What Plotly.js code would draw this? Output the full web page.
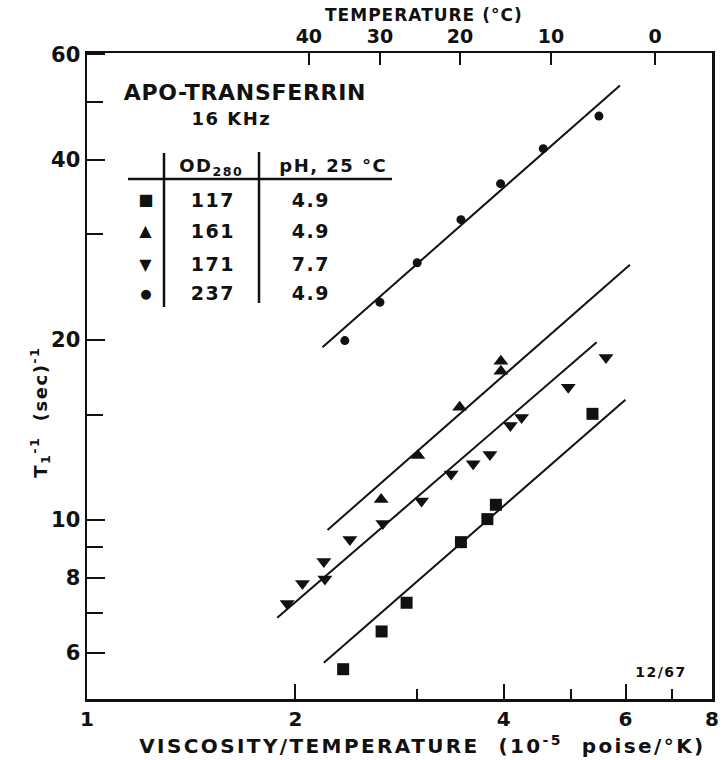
<!DOCTYPE html>
<html>
<head>
<meta charset="utf-8">
<script src="https://cdn.plot.ly/plotly-3.0.1.min.js"></script>
<style>
html,body{margin:0;padding:0;background:#fff;}
#chart{width:723px;height:760px;}
#chart .annotation-text{letter-spacing:1.5px;}
#chart g.annotation[data-index="0"] text{letter-spacing:1px;}
#chart g.annotation[data-index="1"] text{letter-spacing:2.4px;}
#chart g.annotation[data-index="3"] text{letter-spacing:0.7px;}
</style>
</head>
<body>
<div id="chart"></div>
<script>
// ---- data ----
// OD280 = 117, pH 4.9 (squares)
const sqX = [2.345, 2.665, 2.896, 3.470, 3.789, 3.898, 5.375];
const sqY = [5.63, 6.51, 7.27, 9.18, 10.03, 10.60, 15.04];
// OD280 = 161, pH 4.9 (triangles up)
const tuX = [2.661, 3.007, 3.455, 3.963, 3.963];
const tuY = [10.82, 12.81, 15.43, 17.72, 18.42];
// OD280 = 171, pH 7.7 (triangles down)
const tdX = [1.946, 2.048, 2.199, 2.207, 2.398, 2.676, 3.044, 3.359, 3.614, 3.821, 4.090, 4.246, 4.959, 5.622];
const tdY = [7.25, 7.83, 8.52, 7.97, 9.27, 9.86, 10.75, 11.93, 12.41, 12.86, 14.38, 14.83, 16.66, 18.68];
// OD280 = 237, pH 4.9 (circles)
const ciX = [2.358, 2.650, 3.000, 3.470, 3.959, 4.563, 5.492];
const ciY = [19.94, 23.11, 26.90, 31.75, 36.47, 41.73, 47.30];

// fitted straight lines (end points)
const fitSqX = [2.199, 5.998], fitSqY = [5.77, 15.88];
const fitTuX = [2.226, 6.088], fitTuY = [9.62, 26.7];
const fitTdX = [1.883, 5.450], fitTdY = [6.86, 19.81];
const fitCiX = [2.189, 5.890], fitCiY = [19.44, 53.23];

// axes ticks
const xTickVals = [1, 2, 4, 6, 8];
const xTickText = ['1', '2', '4', '6', '8'];
const xMinorVals = [3, 5, 7];
const yTickVals = [6, 8, 10, 20, 40, 60];
const yTickText = ['6', '8', '10', '20', '40', '60'];
const yMinorVals = [7, 9, 15, 30, 50];
// top temperature axis: viscosity/temperature value at each temperature
const tempLabels = ['40', '30', '20', '10', '0'];
const tempPositions = [2.092, 2.650, 3.459, 4.682, 6.618];

// legend table
const legendSymbols = ['■', '▲', '▼', '●'];
const legendOD = ['117', '161', '171', '237'];
const legendPH = ['4.9', '4.9', '7.7', '4.9'];

// ---- layout helpers (pixel -> paper) ----
const L = 87, R = 712, T = 53, B = 699;
const px = v => (v - L) / (R - L);
const py = v => (B - v) / (B - T);
const FONT = 'DejaVu Sans';
const black = '#111';

const lineStyle = {color: black, width: 2};
const traces = [
  {x: fitCiX, y: fitCiY, mode: 'lines', line: lineStyle, hoverinfo: 'skip'},
  {x: fitTuX, y: fitTuY, mode: 'lines', line: lineStyle, hoverinfo: 'skip'},
  {x: fitTdX, y: fitTdY, mode: 'lines', line: lineStyle, hoverinfo: 'skip'},
  {x: fitSqX, y: fitSqY, mode: 'lines', line: lineStyle, hoverinfo: 'skip'},
  {x: sqX, y: sqY, mode: 'markers', marker: {symbol: 'square', size: 12, color: black}},
  {x: tuX, y: tuY, mode: 'markers', marker: {symbol: 'triangle-up', size: 13, color: black}},
  {x: tdX, y: tdY, mode: 'markers', marker: {symbol: 'triangle-down', size: 13, color: black}},
  {x: ciX, y: ciY, mode: 'markers', marker: {symbol: 'circle', size: 9, color: black}},
  // invisible trace to activate the top axis
  {x: tempPositions, y: [null, null, null, null, null], xaxis: 'x2', yaxis: 'y', mode: 'markers', hoverinfo: 'skip', showlegend: false}
];

const annotations = [];
function txt(text, x, y, size, extra) {
  annotations.push(Object.assign({
    text: text, xref: 'paper', yref: 'paper', x: px(x), y: py(y),
    xanchor: 'center', yanchor: 'middle', showarrow: false,
    font: {family: FONT, size: size, color: black, weight: 'bold'}
  }, extra || {}));
}
txt('TEMPERATURE (°C)', 424, 15, 17);
txt('VISCOSITY/TEMPERATURE  (10<sup>-5</sup>  poise/°K)', 422, 745, 20);
txt('T<sub>1</sub><sup>-1</sup>  (sec)<sup>-1</sup>', 40, 412, 18, {textangle: -90});
txt('APO-TRANSFERRIN', 245, 92, 22);
txt('16 KHz', 231, 118, 18);
txt('OD<sub>280</sub>', 211, 167, 18);
txt('pH, 25 °C', 333, 165, 18);
const rowY = [200, 231, 264, 293];
const symSize = [16, 16, 16, 13];
for (let i = 0; i < 4; i++) {
  txt(legendSymbols[i], 146, rowY[i], symSize[i]);
  txt(legendOD[i], 213, rowY[i], 19);
  txt(legendPH[i], 311, rowY[i], 19);
}
txt('12/67', 661, 672, 14);

const shapes = [
  {type: 'line', xref: 'paper', yref: 'paper', x0: px(164), x1: px(164), y0: py(153), y1: py(307), line: {color: black, width: 2.5}},
  {type: 'line', xref: 'paper', yref: 'paper', x0: px(259), x1: px(259), y0: py(152), y1: py(303), line: {color: black, width: 2.5}},
  {type: 'line', xref: 'paper', yref: 'paper', x0: px(128), x1: px(392), y0: py(179), y1: py(179), line: {color: black, width: 2.5}}
];

const xRange = [0, Math.log10(8)];
const yRange = [Math.log10(5.02), Math.log10(60.3)];
const layout = {
  width: 723, height: 760,
  margin: {l: L, r: 723 - R, t: T, b: 760 - B, pad: 0},
  paper_bgcolor: '#fff', plot_bgcolor: '#fff',
  showlegend: false,
  font: {family: FONT, color: black},
  xaxis: {
    type: 'log', range: xRange, tickvals: xTickVals, ticktext: xTickText,
    ticks: 'inside', ticklen: 15, tickwidth: 2, tickcolor: black,
    showgrid: false, zeroline: false, showline: true, linecolor: black, linewidth: 2.5, mirror: false,
    tickfont: {family: FONT, size: 20, color: black, weight: 'bold'},
    minor: {tickvals: xMinorVals, ticks: 'inside', ticklen: 10, tickwidth: 2, tickcolor: black, showgrid: false}
  },
  xaxis2: {
    type: 'log', range: xRange, overlaying: 'x', side: 'top', anchor: 'y',
    tickvals: tempPositions, ticktext: tempLabels,
    ticks: 'inside', ticklen: 12, tickwidth: 2, tickcolor: black,
    showgrid: false, zeroline: false, showline: true, linecolor: black, linewidth: 2.5,
    tickfont: {family: FONT, size: 19, color: black, weight: 'bold'}
  },
  yaxis: {
    type: 'log', range: yRange, tickvals: yTickVals, ticktext: yTickText,
    ticks: 'inside', ticklen: 18, tickwidth: 2, tickcolor: black,
    showgrid: false, zeroline: false, showline: true, linecolor: black, linewidth: 2.5, mirror: true,
    tickfont: {family: FONT, size: 21, color: black, weight: 'bold'},
    minor: {tickvals: yMinorVals, ticks: 'inside', ticklen: 16, tickwidth: 2, tickcolor: black, showgrid: false}
  },
  annotations: annotations,
  shapes: shapes
};

Plotly.newPlot('chart', traces, layout, {staticPlot: true, displayModeBar: false});
</script>
</body>
</html>
